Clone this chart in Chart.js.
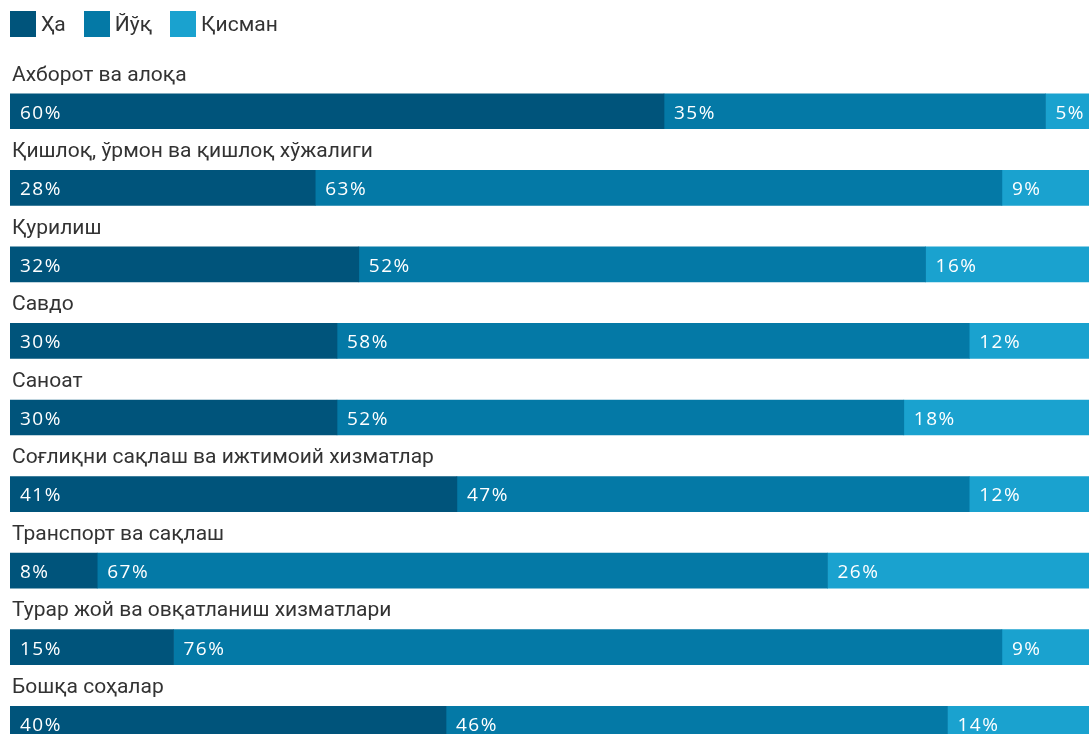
<!DOCTYPE html>
<html>
<head>
<meta charset="utf-8">
<script src="https://cdn.jsdelivr.net/npm/chart.js@4.4.0/dist/chart.umd.min.js"></script>
<style>
  html, body { margin: 0; padding: 0; background: #fff; }
  #wrap { position: relative; width: 1089px; height: 734px; overflow: hidden; }
  #chart-box { position: absolute; left: 0; top: 0; width: 1100px; height: 762px; }
  #legend { position: absolute; left: 10px; top: 11px; display: flex; font-family: Roboto, "Liberation Sans", sans-serif; font-size: 21px; line-height: 26px; color: #333; z-index: 2; }
  #legend .item { display: flex; align-items: center; margin-right: 18px; }
  #legend .sw { width: 26px; height: 26px; margin-right: 5px; }
</style>
</head>
<body>
<div id="wrap">
  <div id="legend"></div>
  <div id="chart-box"><canvas id="chart"></canvas></div>
</div>
<script>
const categories = [
  "Ахборот ва алоқа",
  "Қишлоқ, ўрмон ва қишлоқ хўжалиги",
  "Қурилиш",
  "Савдо",
  "Саноат",
  "Соғлиқни сақлаш ва ижтимоий хизматлар",
  "Транспорт ва сақлаш",
  "Турар жой ва овқатланиш хизматлари",
  "Бошқа соҳалар",
];
const seriesNames = ["Ҳа", "Йўқ", "Қисман"];
const seriesColors = ["#00547b", "#0479a6", "#1aa2cf"];
const yesValues = [60, 28, 32, 30, 30, 41, 8, 15, 40];
const noValues = [35, 63, 52, 58, 52, 47, 67, 76, 46];
const partlyValues = [5, 9, 16, 12, 18, 12, 26, 9, 14];

const legendEl = document.getElementById("legend");
seriesNames.forEach((name, i) => {
  const item = document.createElement("div");
  item.className = "item";
  item.innerHTML = `<span class="sw" style="background:${seriesColors[i]}"></span><span>${name}</span>`;
  legendEl.appendChild(item);
});

// category names sit above each bar, values inside each segment
const rowLabels = {
  id: "rowLabels",
  afterDatasetsDraw(chart) {
    const { ctx, scales } = chart;
    ctx.save();
    ctx.textBaseline = "middle";
    ctx.textAlign = "left";
    ctx.fillStyle = "#333";
    ctx.font = '21px Roboto, "Liberation Sans", sans-serif';
    categories.forEach((c, i) => {
      const y = scales.y.getPixelForValue(i);
      ctx.fillText(c, 12, y - 36);
    });
    ctx.fillStyle = "#fff";
    ctx.font = '19px "Open Sans", sans-serif';
    ctx.letterSpacing = "1.5px";
    chart.data.datasets.forEach((ds, di) => {
      chart.getDatasetMeta(di).data.forEach((bar, i) => {
        const left = Math.min(bar.x, bar.base);
        ctx.fillText(ds.data[i] + "%", left + 10, bar.y + 2);
      });
    });
    ctx.restore();
  },
};

const valueSets = [yesValues, noValues, partlyValues];
new Chart(document.getElementById("chart"), {
  type: "bar",
  data: {
    labels: categories,
    datasets: seriesNames.map((name, i) => ({
      label: name,
      data: valueSets[i],
      backgroundColor: seriesColors[i],
      borderWidth: 0,
      barThickness: 35,
    })),
  },
  options: {
    indexAxis: "y",
    responsive: true,
    maintainAspectRatio: false,
    animation: false,
    layout: { padding: { top: 73, left: 10, right: 0, bottom: 0 } },
    plugins: {
      legend: { display: false },
      tooltip: { enabled: false },
    },
    scales: {
      x: { stacked: true, min: 0, max: 100, display: false },
      y: { stacked: true, display: false },
    },
  },
  plugins: [rowLabels],
});
</script>
</body>
</html>
